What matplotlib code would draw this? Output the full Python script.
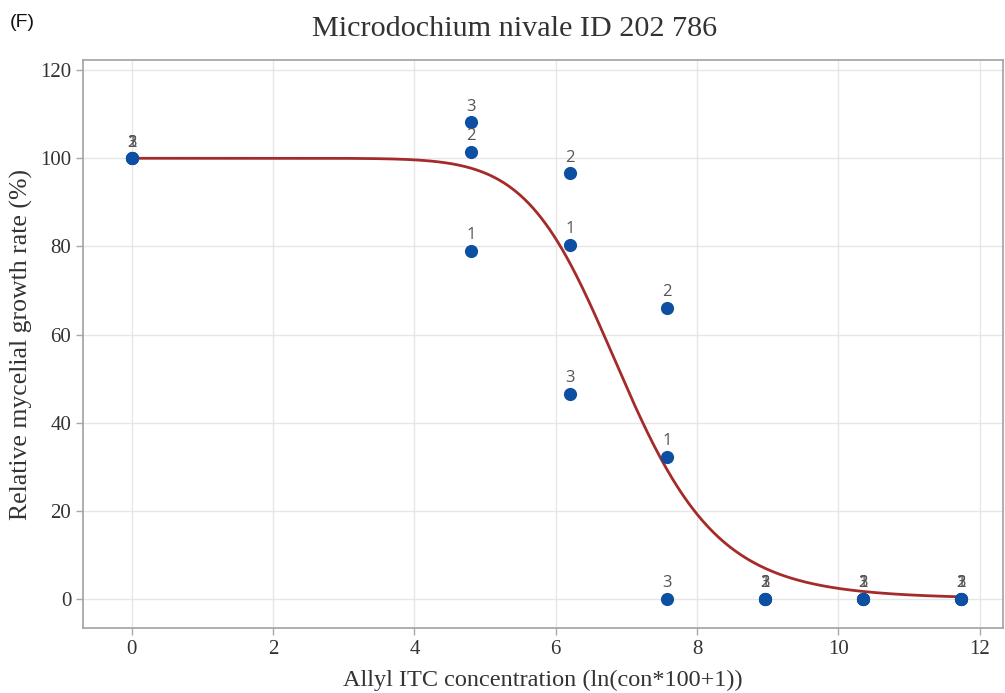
import numpy as np
import matplotlib
matplotlib.use("Agg")
import matplotlib.pyplot as plt

# measured doses (ln(con*100+1)) and relative growth of the 3 replicates
doses = [0.0, 4.80, 6.20, 7.58, 8.96, 10.35, 11.74]
rep1 = [100.0, 79.0, 80.3, 32.2, 0.0, 0.0, 0.0]
rep2 = [100.0, 101.5, 96.6, 66.0, 0.0, 0.0, 0.0]
rep3 = [100.0, 108.2, 46.5, 0.0, 0.0, 0.0, 0.0]
rep_names = ["1", "2", "3"]

# fitted log-logistic model (upper 100, lower 0)
fit_b = 10.2
fit_e = 6.95

x_ticks = [0, 2, 4, 6, 8, 10, 12]
y_ticks = [0, 20, 40, 60, 80, 100, 120]

fig = plt.figure(figsize=(10.05, 6.93), dpi=100)
ax = fig.add_axes([0.0826, 0.0938, 0.9154, 0.8196])

xs = np.linspace(0, max(doses), 400)
with np.errstate(divide="ignore"):
    ys = 100 / (1 + np.exp(fit_b * (np.log(xs) - np.log(fit_e))))
ax.plot(xs, ys, color="#a52a2a", lw=2, zorder=3)

for name, vals in zip(rep_names, [rep1, rep2, rep3]):
    ax.scatter(doses, vals, s=90, color="#0d4fa3", zorder=4, linewidths=0)
    for x, y in zip(doses, vals):
        ax.annotate(name, (x, y), xytext=(0, 5.5), textcoords="offset points",
                    ha="center", va="bottom", fontsize=12, color="#555555",
                    family="Open Sans", zorder=5)

ax.set_xlim(-0.69, 12.33)
ax.set_ylim(-6.6, 122.3)
ax.set_xticks(x_ticks)
ax.set_yticks(y_ticks)
ax.grid(True, color="#e6e6e6", lw=1)
ax.set_axisbelow(True)
for s in ax.spines.values():
    s.set_color("#a8a8a8")
    s.set_linewidth(1.3)
ax.tick_params(colors="#a8a8a8", labelcolor="#333333", length=5, width=1,
               labelsize=15)
for lab in ax.get_xticklabels() + ax.get_yticklabels():
    lab.set_family("Liberation Serif")

ax.set_xlabel("Allyl ITC concentration (ln(con*100+1))", family="Liberation Serif",
              fontsize=17.5, color="#333333", va="center")
ax.xaxis.set_label_coords(0.5, -0.0915)
ax.set_ylabel("Relative mycelial growth rate (%)", family="Liberation Serif",
              fontsize=18.5, color="#333333", va="center")
ax.yaxis.set_label_coords(-0.067, 0.5)

fig.text(0.512, 0.958, "Microdochium nivale ID 202 786", family="Liberation Serif",
         fontsize=21.7, color="#333333", ha="center", va="center")
fig.text(0.01, 0.968, "(F)", family="Liberation Sans", fontsize=14,
         color="#111111", ha="left", va="center")

fig.savefig("out.png", dpi=100)
